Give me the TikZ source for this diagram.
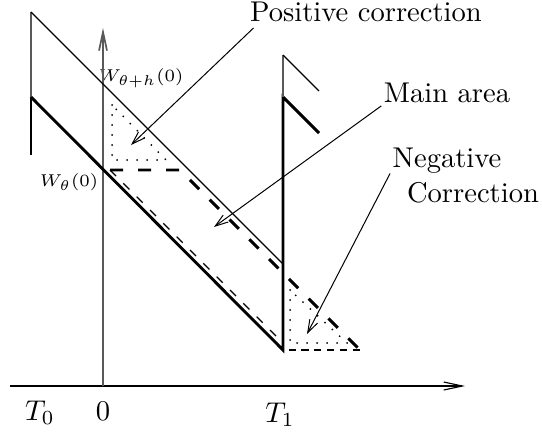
\documentclass[tikz,border=0pt]{standalone}
\usetikzlibrary{arrows.meta}
\tikzset{
 thinline/.style={line width=0.4pt},
 thickline/.style={line width=1pt},
 grayline/.style={line width=0.6pt, draw=black!65},
 axisline/.style={line width=0.4pt, -{Straight Barb[length=6.5pt,width=2.8pt]}},
 ptr/.style={line width=0.35pt, -{Straight Barb[length=4.5pt,width=3pt]}},
 bigdash/.style={line width=1pt, dash pattern=on 4.6pt off 5.2pt},
 smalldash/.style={line width=0.4pt, dash pattern=on 3pt off 3.6pt},
 middash/.style={line width=0.6pt, dash pattern=on 2.5pt off 2pt},
 dotline/.style={line width=0.7pt, line cap=round, dash pattern=on 0pt off 3.5pt},
 lbl/.style={inner sep=0pt, anchor=base},
 smalllbl/.style={lbl, font=\fontsize{6}{7}\selectfont},
}
\begin{document}
\begin{tikzpicture}[x=0.35pt,y=-0.35pt]
\useasboundingbox (0,0) rectangle (542,437);
% labels
\node[lbl] (pos) at (366,22) {Positive correction};
\node[lbl] (main) at (447,102) {Main area};
\node[lbl] (neg1) at (447,167) {Negative};
\node[lbl] (neg2) at (473,202) {Correction};
\node[lbl] (t0) at (40,420) {$T_0$};
\node[lbl] (z) at (103,420) {$0$};
\node[lbl] (t1) at (280,422) {$T_1$};
\node[smalllbl] (wh) at (141,81) {$W_{\theta+h}(0)$};
\node[smalllbl] (w) at (69,186) {$W_\theta(0)$};
% coordinates
\coordinate (A) at (31,12);
\coordinate (B) at (31,97);
\coordinate (C) at (31,155);
\coordinate (D) at (283,264);
\coordinate (E) at (283,55);
\coordinate (F) at (319,91);
\coordinate (G) at (283,350);
\coordinate (H) at (283,97);
\coordinate (I) at (319,133);
\coordinate (O) at (103,386);
\coordinate (xs) at (10,386);
\coordinate (xe) at (465,386);
\coordinate (ye) at (103,28);
% axes
\draw[axisline] (xs) -- (xe);
\draw[axisline, draw=black!65, line width=0.6pt] (O) -- (ye);
% curves
\draw[grayline] (A) -- (B);
\draw[thickline] (B) -- (C);
\draw[thinline] (A) -- (D);
\draw[thickline] (B) -- (G) -- (H) -- (I);
\draw[grayline] (H) -- (E);
\draw[thinline] (E) -- (F);
% dashed
\coordinate (d1) at (110,170);
\coordinate (d2) at (180,170);
\coordinate (d3) at (360,350);
\coordinate (d4) at (287,350);
\coordinate (d5) at (283,343);
\draw[bigdash] (d1) -- (d2) -- (d3);
\draw[middash] (d3) -- (d4);
\draw[smalldash] (d1) -- (d5);
% dotted triangles
\coordinate (p1) at (112,105);
\coordinate (p2) at (112,160);
\coordinate (p3) at (166,160);
\coordinate (q1) at (290,290);
\coordinate (q2) at (290,343);
\coordinate (q3) at (347,343);
\draw[dotline] (p1) -- (p2) -- (p3) -- cycle;
\draw[dotline] (q1) -- (q2) -- (q3) -- cycle;
% pointers
\coordinate (posT) at (131,145);
\coordinate (mainT) at (214,227);
\coordinate (negT) at (307,334);
\draw[ptr] ([shift={(4,5)}]pos.south west) -- (posT);
\draw[ptr] ([shift={(-2,3)}]main.south west) -- (mainT);
\draw[ptr] ([shift={(-2,0)}]neg1.south west) -- (negT);
\end{tikzpicture}
\end{document}
